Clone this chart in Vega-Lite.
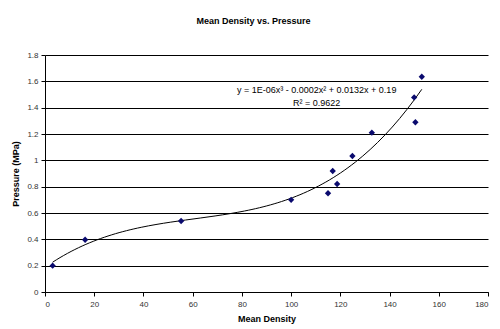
{
  "$schema": "https://vega.github.io/schema/vega-lite/v6.json",
  "width": 443,
  "height": 237,
  "autosize": {"type": "none"},
  "padding": {"left": 45, "top": 55, "right": 12, "bottom": 37},
  "background": "white",
  "title": {
    "text": "Mean Density vs. Pressure",
    "font": "Liberation Sans",
    "fontSize": 9,
    "fontWeight": "bold",
    "color": "#000",
    "anchor": "middle",
    "dx": -13,
    "offset": 25
  },
  "config": {
    "view": {"stroke": null},
    "axis": {
      "labelFont": "Liberation Sans",
      "labelFontSize": 8,
      "labelColor": "#333",
      "titleFont": "Liberation Sans",
      "titleFontSize": 9,
      "titleFontWeight": "bold",
      "titleColor": "#000",
      "domainColor": "#000",
      "tickColor": "#000",
      "tickSize": 4,
      "labelOverlap": false
    },
    "axisX": {"tickCount": 9, "grid": false, "labelPadding": 4, "titlePadding": 6},
    "axisY": {"tickCount": 9, "format": "~g", "grid": true, "gridColor": "#000", "gridOpacity": 1, "gridWidth": 1, "labelPadding": 3, "titlePadding": 6}
  },
  "data": {
    "values": [
      {"density": 3.1, "pressure": 0.2},
      {"density": 16.3, "pressure": 0.397},
      {"density": 55.3, "pressure": 0.539},
      {"density": 100, "pressure": 0.70},
      {"density": 115, "pressure": 0.75},
      {"density": 116.9, "pressure": 0.919},
      {"density": 118.7, "pressure": 0.82},
      {"density": 124.9, "pressure": 1.033},
      {"density": 132.8, "pressure": 1.21},
      {"density": 150, "pressure": 1.478},
      {"density": 150.5, "pressure": 1.289},
      {"density": 153.1, "pressure": 1.635}
    ]
  },
  "layer": [
    {
      "transform": [
        {"regression": "pressure", "on": "density", "method": "poly", "order": 3, "extent": [3.1, 153.1]}
      ],
      "mark": {"type": "line", "color": "#000", "strokeWidth": 1},
      "encoding": {
        "x": {
          "field": "density", "type": "quantitative",
          "scale": {"domain": [0, 180], "nice": false},
          "axis": {"title": "Mean Density"}
        },
        "y": {
          "field": "pressure", "type": "quantitative",
          "scale": {"domain": [0, 1.8], "nice": false},
          "axis": {"title": "Pressure (MPa)"}
        }
      }
    },
    {
      "mark": {"type": "point", "shape": "diamond", "filled": true, "color": "#0a0a6e", "size": 40, "opacity": 1},
      "encoding": {
        "x": {"field": "density", "type": "quantitative"},
        "y": {"field": "pressure", "type": "quantitative"}
      }
    },
    {
      "data": {"values": [{"label": "y = 1E-06x³ - 0.0002x² + 0.0132x + 0.19"}]},
      "mark": {"type": "text", "font": "Liberation Sans", "fontSize": 9, "color": "#000", "align": "center", "baseline": "middle"},
      "encoding": {
        "x": {"datum": 110.4, "type": "quantitative"},
        "y": {"datum": 1.534, "type": "quantitative"},
        "text": {"field": "label"}
      }
    },
    {
      "data": {"values": [{"label": "R² = 0.9622"}]},
      "mark": {"type": "text", "font": "Liberation Sans", "fontSize": 9, "color": "#000", "align": "center", "baseline": "middle"},
      "encoding": {
        "x": {"datum": 110.4, "type": "quantitative"},
        "y": {"datum": 1.435, "type": "quantitative"},
        "text": {"field": "label"}
      }
    }
  ]
}
